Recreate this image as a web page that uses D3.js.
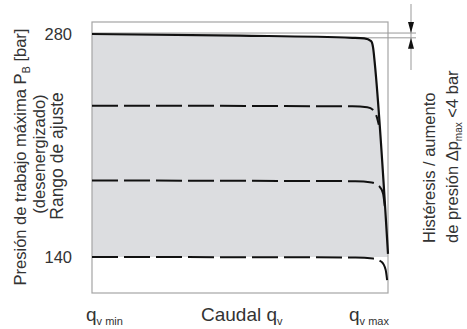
<!DOCTYPE html>
<html>
<head>
<meta charset="utf-8">
<script src="https://cdn.jsdelivr.net/npm/d3@7"></script>
<style>
  html, body { margin: 0; padding: 0; background: #fff; }
  svg { display: block; font-family: "Liberation Sans", Arial, sans-serif; }
  text { fill: #333; }
</style>
</head>
<body>
<svg id="chart" width="467" height="329"></svg>
<script>
// Data: flow in % of q_v range (0 = q_v min, 100 = q_v max), pressure in bar
const yTicks = [280, 140];
const maxCurve = [[0, 280], [50, 279], [88, 277.6], [92, 277.2], [94.3, 275.5], [95, 271], [95.3, 266], [100, 142]];
const setCurve1 = [[0, 235], [88, 234.6], [93, 234], [95.2, 232], [96.2, 228], [96.9, 223]];
const setCurve2 = [[0, 188], [89, 187.6], [94.5, 186.8], [97, 184.5], [98.3, 180], [98.9, 172]];
const setCurve3 = [[0, 140], [89, 139.7], [95, 139], [97.8, 137], [99.2, 132], [99.7, 125.5]];
const hystLevels = [280.6, 277.6];

let svg = d3.select("#chart");

// Scales
let x = d3.scaleLinear().domain([0, 100]).range([92, 388]);
let y = d3.scaleLinear().domain([140, 280]).range([257, 34]);

// Gray setting range area under the max curve
let area = d3.area()
    .x(d => x(d[0]))
    .y0(y(140))
    .y1(d => y(d[1]))
    .curve(d3.curveMonotoneX);

svg.append("path")
    .datum(maxCurve)
    .attr("d", area)
    .attr("fill", "#dcdde0");

// Frame
svg.append("rect")
    .attr("x", x(0)).attr("y", 22)
    .attr("width", x(100) - x(0)).attr("height", 271)
    .attr("fill", "none")
    .attr("stroke", "#a5a5a5")
    .attr("stroke-width", 1.2);

// Hysteresis guide lines
svg.append("line")
    .attr("x1", x(0)).attr("x2", 416)
    .attr("y1", y(hystLevels[0])).attr("y2", y(hystLevels[0]))
    .attr("stroke", "#999").attr("stroke-width", 1);
svg.append("line")
    .attr("x1", 360).attr("x2", 416)
    .attr("y1", y(hystLevels[1])).attr("y2", y(hystLevels[1]))
    .attr("stroke", "#999").attr("stroke-width", 1);
svg.append("line")
    .attr("x1", 411).attr("x2", 411)
    .attr("y1", 4).attr("y2", 70)
    .attr("stroke", "#999").attr("stroke-width", 1);

// arrow heads
let t0 = y(hystLevels[0]), t1 = y(hystLevels[1]);
svg.append("path")
    .attr("d", `M408,${t0 - 11}L414,${t0 - 11}L411,${t0}Z`)
    .attr("fill", "#111");
svg.append("path")
    .attr("d", `M408,${t1 + 11}L414,${t1 + 11}L411,${t1}Z`)
    .attr("fill", "#111");

// Curves
let line = d3.line()
    .x(d => x(d[0]))
    .y(d => y(d[1]))
    .curve(d3.curveMonotoneX);

[setCurve1, setCurve2, setCurve3].forEach(c => {
    svg.append("path")
        .datum(c)
        .attr("d", line)
        .attr("fill", "none")
        .attr("stroke", "#111")
        .attr("stroke-width", 2)
        .attr("stroke-dasharray", "26,6");
});

svg.append("path")
    .datum(maxCurve)
    .attr("d", line)
    .attr("fill", "none")
    .attr("stroke", "#111")
    .attr("stroke-width", 2.2);

// Tick labels
svg.selectAll(".tick-label")
    .data(yTicks)
    .enter().append("text")
    .attr("class", "tick-label")
    .attr("x", 72)
    .attr("y", d => y(d) + 6)
    .attr("text-anchor", "end")
    .attr("font-size", 16.5)
    .text(d => d);

// Left axis title
let lt = svg.append("text")
    .attr("transform", "translate(26,157) rotate(-90)")
    .attr("text-anchor", "middle")
    .attr("font-size", 16.5);
lt.append("tspan").text("Presión de trabajo máxima P");
lt.append("tspan").attr("font-size", 11).attr("dy", 4).text("B");
lt.append("tspan").attr("dy", -4).text(" [bar]");

svg.append("text")
    .attr("transform", "translate(45,154) rotate(-90)")
    .attr("text-anchor", "middle")
    .attr("font-size", 16.5)
    .text("(desenergizado)");

svg.append("text")
    .attr("transform", "translate(63,156) rotate(-90)")
    .attr("text-anchor", "middle")
    .attr("font-size", 17.5)
    .text("Rango de ajuste");

// Right annotation
svg.append("text")
    .attr("transform", "translate(435,243) rotate(-90)")
    .attr("font-size", 16.5)
    .text("Histéresis / aumento");

let rt = svg.append("text")
    .attr("transform", "translate(458,243) rotate(-90)")
    .attr("font-size", 16.5);
rt.append("tspan").text("de presión Δp");
rt.append("tspan").attr("font-size", 10).attr("dy", 4).text("max");
rt.append("tspan").attr("dy", -4).text(" <4 bar");

// Bottom labels
function qLabel(xPos, prefix, sub) {
    let t = svg.append("text")
        .attr("x", xPos).attr("y", 321)
        .attr("font-size", 19);
    t.append("tspan").text(prefix + "q");
    t.append("tspan").attr("font-size", 11).attr("dy", 4).text(sub);
}
qLabel(86, "", "v min");
qLabel(201, "Caudal ", "v");
qLabel(349, "", "v max");
</script>
</body>
</html>
